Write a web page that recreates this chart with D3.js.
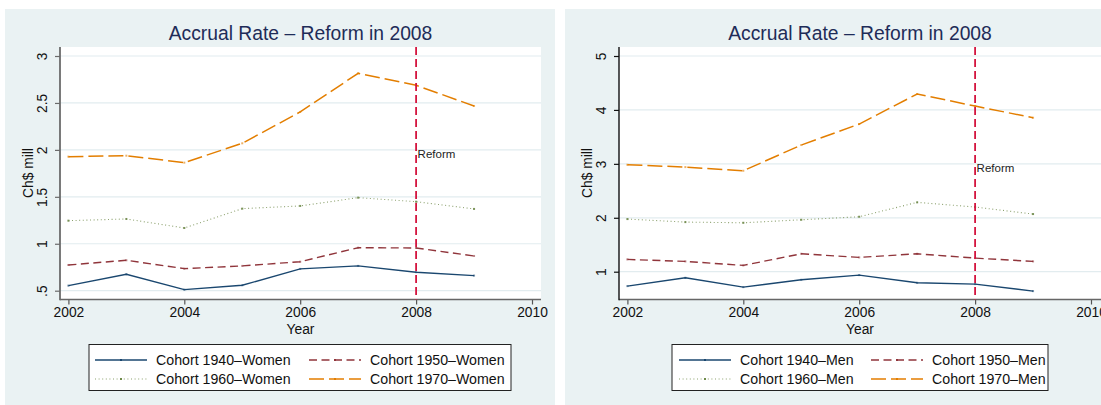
<!DOCTYPE html>
<html>
<head>
<meta charset="utf-8">
<script src="https://cdn.jsdelivr.net/npm/d3@7"></script>
<style>
  html, body { margin: 0; padding: 0; background: #fff; }
  svg { display: block; font-family: "Liberation Sans", Arial, sans-serif; }
</style>
</head>
<body>
<div class="box"></div>
<script>
// données
const years = [2002, 2003, 2004, 2005, 2006, 2007, 2008, 2009];
const cohorts = ['1940', '1950', '1960', '1970'];

const women1940 = [0.554, 0.675, 0.511, 0.558, 0.732, 0.764, 0.697, 0.661];
const women1950 = [0.774, 0.824, 0.735, 0.764, 0.809, 0.958, 0.955, 0.870];
const women1960 = [1.246, 1.264, 1.168, 1.374, 1.403, 1.491, 1.448, 1.371];
const women1970 = [1.928, 1.938, 1.864, 2.070, 2.404, 2.816, 2.688, 2.468];

const men1940 = [0.733, 0.887, 0.714, 0.850, 0.937, 0.794, 0.770, 0.640];
const men1950 = [1.228, 1.191, 1.117, 1.332, 1.265, 1.332, 1.252, 1.191];
const men1960 = [1.976, 1.920, 1.907, 1.963, 2.019, 2.286, 2.199, 2.069];
const men1970 = [2.983, 2.940, 2.872, 3.349, 3.738, 4.295, 4.072, 3.855];

const xTicks = [2002, 2004, 2006, 2008, 2010];
const womenYTicks = [0.5, 1, 1.5, 2, 2.5, 3];
const womenYTickLabels = ['.5', '1', '1.5', '2', '2.5', '3'];
const menYTicks = [1, 2, 3, 4, 5];
const menYTickLabels = ['1', '2', '3', '4', '5'];

const reformYear = 2008;
const womenReformLabelY = 2;
const menReformLabelY = 3;

const titre = 'Accrual Rate \u2013 Reform in 2008';

//////////////////styles///////////////////////

const styles = [
  {color: '#1a476f', dash: null, width: 1.4, op: 1},
  {color: '#90353b', dash: '8,4.5', width: 1.4, op: 1},
  {color: '#6f8a4a', dash: '1,2.6', width: 1.1, op: 0.8},
  {color: '#e37e00', dash: '15,5', width: 1.5, op: 1}
];

const W = 1101, H = 405;

const svg = d3.select('.box')
              .append('svg')
              .attr('width', W)
              .attr('height', H);

//////////////// fonction panneau //////////////////////////

const panneau = (p) => {

  // fond du panneau
  svg.append('rect')
     .attr('x', p.bgX).attr('y', 9)
     .attr('width', p.bgW).attr('height', H - 9)
     .attr('fill', '#eaf2f3');

  const x = d3.scaleLinear()
              .domain([2002, 2010])
              .range([p.left + 8.4, p.left + 8.4 + 463.6]);

  const y = d3.scaleLinear()
              .domain([p.yTicks[0], p.yTicks[p.yTicks.length - 1]])
              .range([p.yBottomTick, 56]);

  const top = 47, bottom = 299.5;

  // zone blanche
  svg.append('rect')
     .attr('x', p.left).attr('y', top)
     .attr('width', p.right - p.left).attr('height', bottom - top)
     .attr('fill', '#fff');

  // grille
  svg.append('g')
     .selectAll('line')
     .data(p.yTicks)
     .enter().append('line')
     .attr('x1', p.left).attr('x2', p.right)
     .attr('y1', d => y(d)).attr('y2', d => y(d))
     .attr('stroke', '#e2ecef')
     .attr('stroke-width', 1.2);

  // titre
  svg.append('text')
     .attr('x', (p.left + p.right) / 2)
     .attr('y', 40)
     .attr('text-anchor', 'middle')
     .attr('font-size', 19.3)
     .attr('fill', '#1e2c58')
     .text(titre);

  // axe x
  const axeX = svg.append('g')
                  .attr('transform', `translate(0, ${bottom})`)
                  .call(d3.axisBottom(x).tickValues(xTicks).tickFormat(d3.format('d')).tickSize(5).tickPadding(3));
  axeX.select('.domain').remove();
  axeX.selectAll('line').attr('stroke', '#555').attr('stroke-width', 1.2);
  axeX.selectAll('text').attr('font-size', 13.8).attr('fill', '#111')
      .attr('font-family', '"Liberation Sans", Arial, sans-serif');
  svg.append('line')
     .attr('x1', p.left).attr('x2', p.right)
     .attr('y1', bottom).attr('y2', bottom)
     .attr('stroke', '#666').attr('stroke-width', 1.6);

  // axe y
  const axeY = svg.append('g')
                  .attr('transform', `translate(${p.left}, 0)`)
                  .call(d3.axisLeft(y).tickValues(p.yTicks).tickFormat((d, i) => p.yLabels[i]).tickSize(5));
  axeY.select('.domain').remove();
  axeY.selectAll('line').attr('stroke', p.yAxisColor).attr('stroke-width', 1.2);
  axeY.selectAll('text')
      .attr('font-size', 13.8).attr('fill', '#111')
      .attr('font-family', '"Liberation Sans", Arial, sans-serif')
      .attr('x', null).attr('dy', null)
      .attr('text-anchor', 'middle')
      .attr('dominant-baseline', 'central')
      .attr('transform', 'translate(-18, 0) rotate(-90)');
  svg.append('line')
     .attr('x1', p.left).attr('x2', p.left)
     .attr('y1', top).attr('y2', bottom + 0.8)
     .attr('stroke', p.yAxisColor).attr('stroke-width', p.yAxisWidth);

  // titres des axes
  svg.append('text')
     .attr('transform', `translate(${p.left - 32}, 173) rotate(-90)`)
     .attr('text-anchor', 'middle')
     .attr('dominant-baseline', 'central')
     .attr('font-size', 13.8).attr('fill', '#111')
     .text('Ch$ mill');
  svg.append('text')
     .attr('x', (p.left + p.right) / 2)
     .attr('y', 334)
     .attr('text-anchor', 'middle')
     .attr('font-size', 13.8).attr('fill', '#111')
     .text('Year');

  // courbes
  const ligne = d3.line()
                  .x((d, i) => x(years[i]))
                  .y(d => y(d));

  p.series.forEach((s, k) => {
    const st = styles[k];
    svg.append('path')
       .attr('d', ligne(s))
       .attr('fill', 'none')
       .attr('stroke', st.color)
       .attr('stroke-width', st.width)
       .attr('stroke-opacity', st.op)
       .attr('stroke-dasharray', st.dash);
    svg.append('g')
       .selectAll('rect')
       .data(s)
       .enter().append('rect')
       .attr('x', (d, i) => x(years[i]) - 1)
       .attr('y', d => y(d) - 1)
       .attr('width', 2).attr('height', 2)
       .attr('fill', st.color)
       .attr('opacity', k === 2 ? 0.9 : 0.6);
  });

  // ligne de réforme
  svg.append('line')
     .attr('x1', x(reformYear)).attr('x2', x(reformYear))
     .attr('y1', top).attr('y2', bottom)
     .attr('stroke', '#d4153f')
     .attr('stroke-width', 1.8)
     .attr('stroke-dasharray', '8,4');
  svg.append('text')
     .attr('x', x(reformYear) + 1.5)
     .attr('y', y(p.reformY) + 8)
     .attr('font-size', 11.5).attr('fill', '#222')
     .text('Reform');

  // légende
  const lg = svg.append('g');
  lg.append('rect')
    .attr('x', p.legend.x).attr('y', 344.5)
    .attr('width', p.legend.w).attr('height', 46)
    .attr('fill', '#fff')
    .attr('stroke', '#222').attr('stroke-width', 1);

  const rows = [360, 379];
  cohorts.forEach((c, k) => {
    const col = k % 2, row = Math.floor(k / 2);
    const sx = p.legend.sx[col];
    const ry = rows[row];
    const st = styles[k];
    lg.append('line')
      .attr('x1', sx).attr('x2', sx + 52)
      .attr('y1', ry).attr('y2', ry)
      .attr('stroke', st.color)
      .attr('stroke-width', k === 2 ? 1.1 : 1.6)
      .attr('stroke-opacity', st.op)
      .attr('stroke-dasharray', st.dash);
    lg.append('rect')
      .attr('x', sx + 25).attr('y', ry - 1)
      .attr('width', 2).attr('height', 2)
      .attr('fill', st.color);
    lg.append('text')
      .attr('x', sx + 61)
      .attr('y', ry)
      .attr('dominant-baseline', 'central')
      .attr('font-size', 14.2).attr('fill', '#111')
      .text(`Cohort ${c}\u2013${p.sexe}`);
  });
};

panneau({
  bgX: 5, bgW: 550,
  left: 60, right: 541,
  yTicks: womenYTicks, yLabels: womenYTickLabels, yBottomTick: 290.7,
  yAxisColor: '#6b6b6b', yAxisWidth: 1.8,
  series: [women1940, women1950, women1960, women1970],
  reformY: womenReformLabelY,
  sexe: 'Women',
  legend: {x: 89, w: 422, sx: [95, 309]}
});

panneau({
  bgX: 565, bgW: 536,
  left: 619, right: 1101,
  yTicks: menYTicks, yLabels: menYTickLabels, yBottomTick: 271.7,
  yAxisColor: '#111', yAxisWidth: 1.4,
  series: [men1940, men1950, men1960, men1970],
  reformY: menReformLabelY,
  sexe: 'Men',
  legend: {x: 672, w: 376, sx: [679, 871]}
});
</script>
</body>
</html>
